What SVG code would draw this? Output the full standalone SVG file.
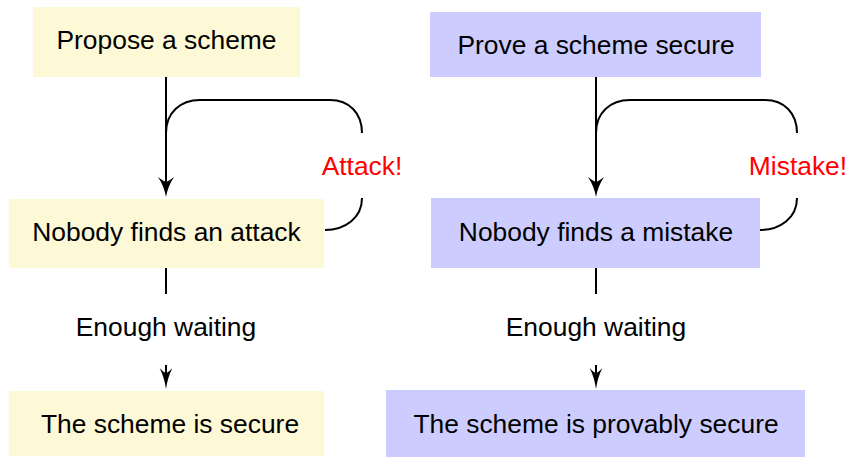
<svg xmlns="http://www.w3.org/2000/svg" width="848" height="458" viewBox="0 0 848 458">
  <style>
    .lbl { font-family: "Liberation Sans", Arial, Helvetica, sans-serif; font-size: 26.4px; text-anchor: middle; fill: #000; }
    .warn { fill: #ff0000; }
    .yel { fill: #fdf8d6; }
    .blu { fill: #ccccff; }
    .wire { fill: none; stroke: #000; stroke-width: 2; }
  </style>
  <defs>
    <path id="head" d="M0,0 Q-2,-11 -8,-20 Q-3,-16 0,-15 Q3,-16 8,-20 Q2,-11 0,0 Z" fill="#000"/>
  </defs>

  <!-- left column: attack-based security -->
  <g id="propose">
    <rect class="yel" x="33" y="7" width="267" height="70"/>
    <text class="lbl" x="166.5" y="49">Propose a scheme</text>
  </g>
  <g id="no-attack">
    <rect class="yel" x="9" y="199" width="315" height="69"/>
    <text class="lbl" x="166.5" y="241">Nobody finds an attack</text>
  </g>
  <g id="secure">
    <rect class="yel" x="9" y="391" width="315" height="65"/>
    <text class="lbl" x="170" y="433">The scheme is secure</text>
  </g>

  <!-- right column: provable security -->
  <g id="prove">
    <rect class="blu" x="430" y="12" width="331" height="65"/>
    <text class="lbl" x="596" y="54">Prove a scheme secure</text>
  </g>
  <g id="no-mistake">
    <rect class="blu" x="431" y="198" width="329" height="70"/>
    <text class="lbl" x="596" y="241">Nobody finds a mistake</text>
  </g>
  <g id="provably-secure">
    <rect class="blu" x="386" y="390" width="419" height="67"/>
    <text class="lbl" x="596" y="433">The scheme is provably secure</text>
  </g>

  <g id="connectors">
    <!-- left: main flow -->
    <path class="wire" d="M166,77 V186"/>
    <use href="#head" x="166" y="197"/>
    <!-- left: attack loop -->
    <path class="wire" d="M325,230 C345,230 362,218 362,198"/>
    <path class="wire" d="M362,133 C362,113 349,100 330,100 H200 C180,100 166,113 166,133"/>
    <text class="lbl warn" x="362" y="175">Attack!</text>
    <!-- left: waiting -->
    <path class="wire" d="M166,268 V294"/>
    <text class="lbl" x="166" y="336">Enough waiting</text>
    <path class="wire" d="M166,365 V378"/>
    <use href="#head" transform="translate(166,389) scale(0.8,1.05)"/>

    <!-- right: main flow -->
    <path class="wire" d="M596,77 V186"/>
    <use href="#head" x="596" y="197"/>
    <!-- right: mistake loop -->
    <path class="wire" d="M760,230 C780,230 797,218 797,198"/>
    <path class="wire" d="M797,133 C797,113 784,100 765,100 H630 C610,100 596,113 596,133"/>
    <text class="lbl warn" x="798" y="175">Mistake!</text>
    <!-- right: waiting -->
    <path class="wire" d="M596,268 V294"/>
    <text class="lbl" x="596" y="336">Enough waiting</text>
    <path class="wire" d="M596,365 V378"/>
    <use href="#head" transform="translate(596,389) scale(0.8,1.05)"/>
  </g>
</svg>
